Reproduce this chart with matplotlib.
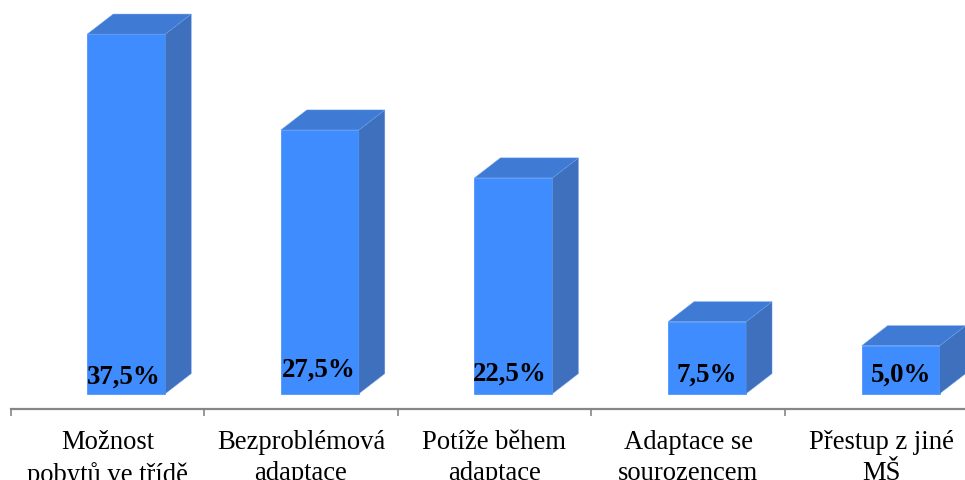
import numpy as np
import matplotlib
matplotlib.use('Agg')
import matplotlib.pyplot as plt
from matplotlib.patches import Polygon

categories = ['Možnost\npobytů ve třídě', 'Bezproblémová\nadaptace', 'Potíže během\nadaptace',
              'Adaptace se\nsourozencem', 'Přestup z jiné\nMŠ']
values = [37.5, 27.5, 22.5, 7.5, 5.0]
value_labels = ['37,5%', '27,5%', '22,5%', '7,5%', '5,0%']
# small manual shifts of the data labels, same as the original chart
label_dx = [-0.015, -0.005, -0.02, 0, 0]
label_y = [1.85, 2.6, 2.1, 2.0, 2.0]

plt.rcParams['font.family'] = ['Liberation Serif', 'DejaVu Serif']

fig = plt.figure(figsize=(9.65, 4.81), dpi=100)

# axes runs past the right edge, the last category is cut off like in the original
ax = fig.add_axes([10.5/965, 71/481, 968/965, 410/481])
ax.set_xlim(0, 5)
ax.set_ylim(-1.6, 41.16)
ax.patch.set_alpha(0)

width = 0.403
offset = 0.098
dx = 0.134
dy = 2.09

front = '#3F8CFF'
top = '#3F7BD4'
side = '#3F70BD'
edge = '#6A9FEA'

for i, v in enumerate(values):
    x0 = i + 0.5 + offset - width/2
    x1 = x0 + width
    ax.bar(x0, v, width=width, align='edge', color=front, edgecolor=front, linewidth=0.5, zorder=2)
    ax.add_patch(Polygon([(x1, 0), (x1+dx, dy), (x1+dx, v+dy), (x1, v)], closed=True,
                         facecolor=side, edgecolor=edge, linewidth=0.3, zorder=2))
    ax.add_patch(Polygon([(x0, v), (x0+dx, v+dy), (x1+dx, v+dy), (x1, v)], closed=True,
                         facecolor=top, edgecolor=edge, linewidth=0.3, zorder=2))
    ax.text(i + 0.5 + offset + label_dx[i], label_y[i], value_labels[i], ha='center', va='center',
            fontsize=19.4, fontweight='bold', color='black', zorder=3)
    ax.text(i + 0.5, -3.65, categories[i], ha='center', va='top', fontsize=19.2,
            color='black', linespacing=1.36, clip_on=False)

for s in ['top', 'left', 'right']:
    ax.spines[s].set_visible(False)
ax.spines['bottom'].set_color('#868686')
ax.spines['bottom'].set_linewidth(1.6)
ax.set_yticks([])
ax.set_xticks(np.arange(0, 6))
ax.set_xticklabels([])
ax.tick_params(axis='x', direction='out', length=5, width=1.2, color='#868686')

fig.savefig('out.png', dpi=100)
